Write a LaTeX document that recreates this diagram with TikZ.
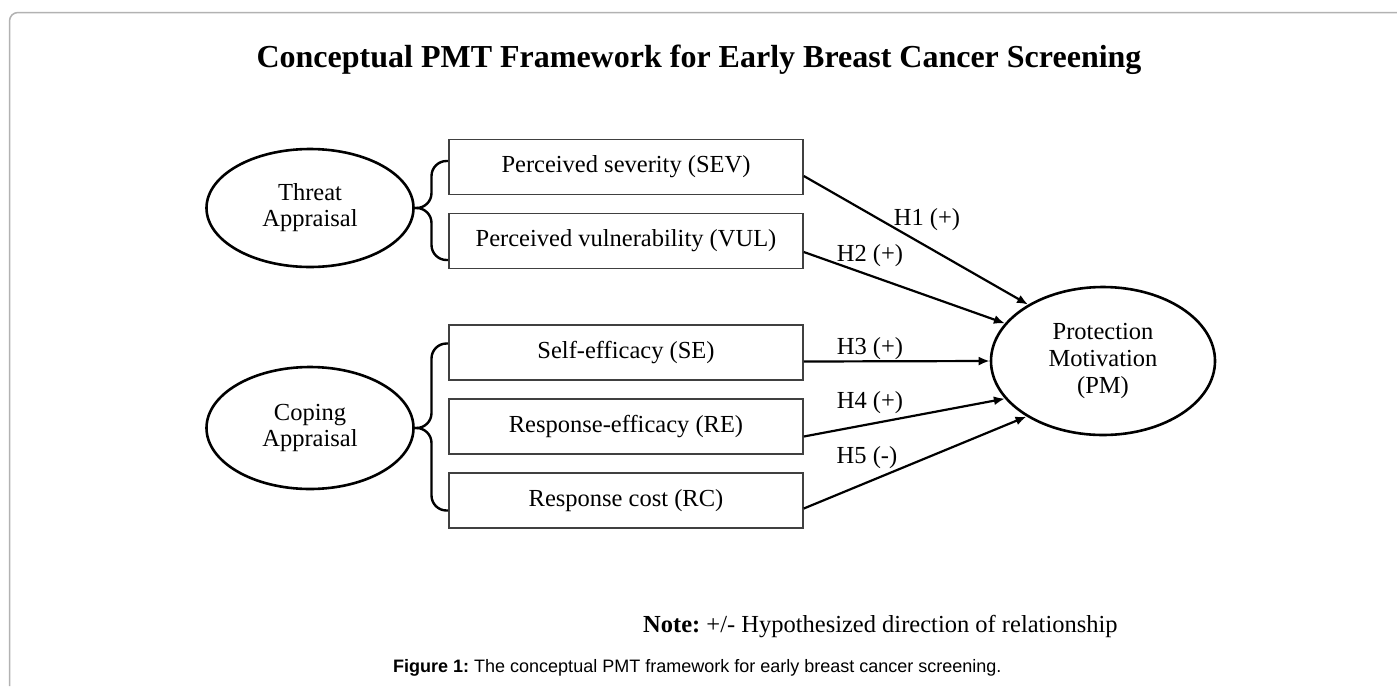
\documentclass[tikz,border=0pt]{standalone}
\usepackage{fontspec}
\setmainfont{Liberation Serif}
\setsansfont{Liberation Sans}
\frenchspacing
\usetikzlibrary{arrows.meta,calc,shapes.geometric}

\tikzset{
  factor/.style={draw=black!75, line width=1.6pt, minimum width=354, minimum height=55},
  construct/.style={draw=black, line width=2.6pt, ellipse, align=center},
  hyp/.style={line width=2.2pt, -{Latex[length=11pt,width=9pt]}},
  appbrace/.style={line width=2.4pt, rounded corners=15pt},
}

\begin{document}
\begin{tikzpicture}[x=1pt,y=1pt]
      \tikzstyle{every node}+=[inner sep=0pt, font=\fontsize{24.5}{26}\selectfont]
      \useasboundingbox (0,0) rectangle (1397,-686);
      \draw [gray!60, line width=1.5pt] (1397,-12.5) -- (18,-12.5) arc (90:180:8.5) -- (9.5,-686);
      \node (title) at (699,-60) {\fontsize{32}{34}\selectfont\bfseries Conceptual PMT Framework for Early Breast Cancer Screening};
      \node [construct, minimum width=207, minimum height=118] (threat) at (310,-208) {Threat\\Appraisal};
      \node [construct, minimum width=207, minimum height=122] (coping) at (310,-428) {Coping\\Appraisal};
      \node [construct, minimum width=224, minimum height=148, font=\fontsize{24.5}{27}\selectfont] (pm) at (1103,-361) {Protection\\Motivation\\(PM)};
      \node [factor] (sev) at (626,-167) {Perceived severity (SEV)};
      \node [factor] (vul) at (626,-241) {Perceived vulnerability (VUL)};
      \node [factor] (se) at (626,-352.5) {Self-efficacy (SE)};
      \node [factor] (re) at (626,-426.5) {Response-efficacy (RE)};
      \node [factor] (rc) at (626,-500.5) {Response cost (RC)};
      \coordinate (tmid) at ($(threat.east)!0.5!(threat.east -| sev.west)$);
      \coordinate (cmid) at ($(coping.east)!0.5!(coping.east -| se.west)$);
      \draw [appbrace] ([yshift=6]sev.west) -| (tmid) -- (threat.east);
      \draw [appbrace] ([yshift=-19]vul.west) -| (tmid) -- (threat.east);
      \draw [appbrace] ([yshift=9]se.west) -| (cmid) -- (coping.east);
      \draw [appbrace] ([yshift=-10]rc.west) -| (cmid) -- (coping.east);
      \draw [hyp] ([yshift=-9]sev.east) -- (pm.143.6);
      \draw [hyp] ([yshift=-11]vul.east) -- (pm.159.8);
      \draw [hyp] ([yshift=-9]se.east) -- (pm.180);
      \draw [hyp] ([yshift=-10]re.east) -- (pm.201.7);
      \draw [hyp] ([yshift=-8]rc.east) -- (pm.216.9);
      \node (h1) at (927,-220) {H1 (+)};
      \node (h2) at (870,-256) {H2 (+)};
      \node (h3) at (870,-349) {H3 (+)};
      \node (h4) at (870,-403) {H4 (+)};
      \node (h5) at (867,-458) {H5 (-)};
      \node [anchor=west] (note) at (643,-627) {\textbf{Note:} +/- Hypothesized direction of relationship};
      \node [anchor=west, font=\fontsize{18}{20}\sffamily] (caption) at (393,-668) {\textbf{Figure 1:} The conceptual PMT framework for early breast cancer screening.};
      \end{tikzpicture}
\end{document}
